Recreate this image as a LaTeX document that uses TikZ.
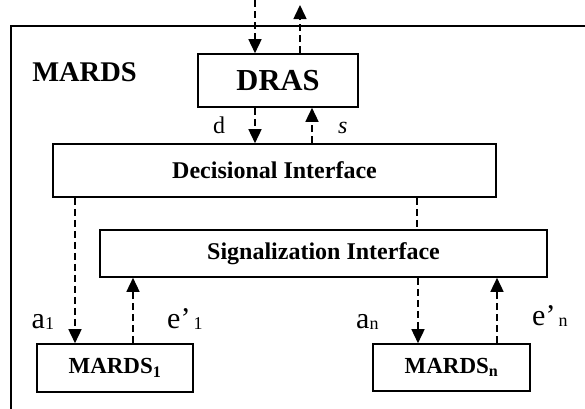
\documentclass[tikz,border=0pt]{standalone}
\usepackage{fontspec}
\setmainfont{Liberation Serif}
\usetikzlibrary{arrows.meta}
\newcommand{\lowsub}[1]{\raisebox{-1pt}{\fontsize{18}{20}\selectfont #1}}
\begin{document}
\begin{tikzpicture}[x=1pt,y=-1pt,
  box/.style={draw, line width=1.6pt, inner sep=0pt, font=\bfseries},
  flow/.style={line width=1.5pt, dash pattern=on 7pt off 4pt, -{Triangle[width=13pt,length=14pt]}},
  link/.style={line width=1.5pt, dash pattern=on 7pt off 4pt},
  lbl/.style={inner sep=0pt, anchor=base west, font=\fontsize{30}{32}\selectfont}]
\useasboundingbox (0,0) rectangle (585,408);
\fill[white] (0,0) rectangle (585,408);
\draw[line width=2pt] (11,412) -- (11,26) -- (590,26);
% nodes
\node[inner sep=0pt, font=\bfseries\fontsize{28.5}{30}\selectfont] (mardslbl) at (84.5,72) {MARDS};
\node[box, minimum width=160pt, minimum height=53pt, font=\bfseries\fontsize{30.5}{32}\selectfont] (dras) at (278,80.5) {DRAS};
\node[box, minimum width=443pt, minimum height=53pt, font=\bfseries\fontsize{24}{26}\selectfont] (dec) at (274.5,170.5) {Decisional Interface};
\node[box, minimum width=447pt, minimum height=47pt, font=\bfseries\fontsize{24}{26}\selectfont] (sig) at (323.5,253.5) {Signalization Interface};
\node[box, minimum width=156pt, minimum height=48pt, font=\bfseries\fontsize{23}{25}\selectfont] (m1) at (115,368) {MARDS\textsubscript{1}};
\node[box, minimum width=157pt, minimum height=47pt, font=\bfseries\fontsize{23}{25}\selectfont] (mn) at (451.5,367.5) {MARDS\textsubscript{n}};
% reference coordinates
\coordinate (topin) at (255,0);
\coordinate (topout) at (300,5);
\coordinate (xs) at (312,0);
\coordinate (xa1) at (75,0);
\coordinate (xe1) at (133,0);
\coordinate (xdl) at (417,0);
\coordinate (xan) at (418,0);
\coordinate (xen) at (497,0);
% connectors
\draw[flow] (topin) -- (topin |- dras.north);
\draw[flow] (dras.north -| topout) -- (topout);
\draw[flow] (dras.south -| topin) -- (dec.north -| topin);
\draw[flow] (dec.north -| xs) -- (dras.south -| xs);
\draw[flow] (dec.south -| xa1) -- (m1.north -| xa1);
\draw[link] (dec.south -| xdl) -- (sig.north -| xdl);
\draw[flow] (m1.north -| xe1) -- (sig.south -| xe1);
\draw[flow] (sig.south -| xan) -- (mn.north -| xan);
\draw[flow] (mn.north -| xen) -- (sig.south -| xen);
% labels
\node[lbl, font=\fontsize{24}{26}\selectfont] (ld) at (213,133) {d};
\node[lbl, font=\itshape\fontsize{24}{26}\selectfont] (ls) at (338,133) {s};
\node[lbl] (la1) at (31.5,328) {a\lowsub{1}};
\node[lbl] (le1) at (167,328) {e’\kern3pt\lowsub{1}};
\node[lbl] (lan) at (356,328) {a\lowsub{n}};
\node[lbl] (len) at (532,325) {e’\kern3pt\lowsub{n}};
\end{tikzpicture}
\end{document}
